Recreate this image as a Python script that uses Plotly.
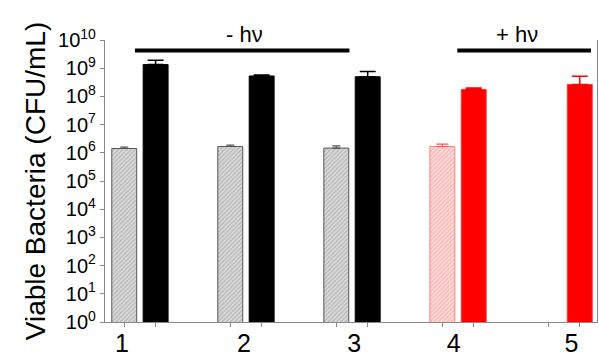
import plotly.graph_objects as go

# ---- data ----
groups = [1, 2, 3, 4, 5]
group_labels = ["1", "2", "3", "4", "5"]
label_pos = [0.83, 1.98, 3.02, 3.96, 5.07]

# dark (no light) series, groups 1-3
dark_groups = [1, 2, 3]
grey_vals = [1.42e6, 1.67e6, 1.47e6]
grey_err = [0.18e6, 0.21e6, 0.30e6]
black_vals = [1.34e9, 5.3e8, 5.0e8]
black_err = [0.56e9, 0.4e8, 2.6e8]

# light series, groups 4-5
lightred_groups = [4]
lightred_vals = [1.67e6]
lightred_err = [0.37e6]
red_groups = [4, 5]
red_vals = [1.77e8, 2.63e8]
red_err = [0.23e8, 2.6e8]

ytick_exp = list(range(0, 11))

OFF = 0.148
W = 0.235

fig = go.Figure()

fig.add_trace(go.Bar(
    x=[g - OFF for g in dark_groups], y=grey_vals, width=W,
    marker=dict(color="#d4d4d4", line=dict(color="#555555", width=1),
                pattern=dict(shape="/", fgcolor="#7a7a7a", bgcolor="#dcdcdc", size=3, solidity=0.35)),
    error_y=dict(type="data", symmetric=False, array=grey_err, arrayminus=[0]*3,
                 color="#555555", thickness=1.2, width=4),
))
fig.add_trace(go.Bar(
    x=[g + OFF for g in dark_groups], y=black_vals, width=W,
    marker=dict(color="black", line=dict(color="black", width=1)),
    error_y=dict(type="data", symmetric=False, array=black_err, arrayminus=[0]*3,
                 color="black", thickness=1.5, width=8),
))
fig.add_trace(go.Bar(
    x=[g - OFF for g in lightred_groups], y=lightred_vals, width=W,
    marker=dict(color="#ffd0d0", line=dict(color="#ff8080", width=1),
                pattern=dict(shape="/", fgcolor="#ff7070", bgcolor="#ffdede", size=3, solidity=0.35)),
    error_y=dict(type="data", symmetric=False, array=lightred_err, arrayminus=[0],
                 color="#ff5050", thickness=1.2, width=6),
))
fig.add_trace(go.Bar(
    x=[g + OFF for g in red_groups], y=red_vals, width=W,
    marker=dict(color="#ff0000", line=dict(color="#ff3030", width=1)),
    error_y=dict(type="data", symmetric=False, array=red_err, arrayminus=[0]*2,
                 color="#ff0000", thickness=1.5, width=8),
))

bar_centers = sorted([g - OFF for g in groups] + [g + OFF for g in groups])
xr = [0.6706, 5.3106]

fig.update_layout(
    width=599, height=358,
    margin=dict(l=105, r=1, t=40, b=34),
    paper_bgcolor="white", plot_bgcolor="white",
    showlegend=False, barmode="overlay",
    font=dict(family="Liberation Sans, Arial, sans-serif", color="black"),
    xaxis=dict(range=xr, showline=True, linecolor="#888888", linewidth=1.2,
               tickvals=bar_centers, showticklabels=False,
               ticks="outside", ticklen=4, tickcolor="#888888", showgrid=False, zeroline=False),
    xaxis2=dict(range=xr, overlaying="x", side="bottom", anchor="y",
                tickvals=label_pos, ticktext=group_labels, ticks="",
                ticklabelstandoff=4,
                tickfont=dict(size=25), showgrid=False, zeroline=False, showline=False),
    yaxis=dict(type="log", range=[0, 10], showline=True, linecolor="#888888", linewidth=1.2,
               mirror=True, tickvals=[10 ** e for e in ytick_exp],
               ticktext=["10<sup>%d</sup>" % e for e in ytick_exp],
               ticks="outside", ticklen=4, tickcolor="#888888",
               tickfont=dict(size=20), showgrid=False, zeroline=False,
               title=dict(text="Viable Bacteria (CFU/mL)", font=dict(size=28), standoff=4)),
)
# invisible helper trace to activate xaxis2
fig.add_trace(go.Scatter(x=[label_pos[0]], y=[1], xaxis="x2", mode="markers",
                         marker=dict(opacity=0), hoverinfo="skip", showlegend=False))

# condition brackets
fig.add_shape(type="line", xref="x", yref="paper", x0=0.953, x1=2.976, y0=0.963, y1=0.963,
              line=dict(color="black", width=4))
fig.add_shape(type="line", xref="x", yref="paper", x0=3.993, x1=5.254, y0=0.963, y1=0.963,
              line=dict(color="black", width=4))
fig.add_annotation(x=1.988, y=1.02, xref="x", yref="paper", text="- hν", showarrow=False,
                   font=dict(size=22), yanchor="middle")
fig.add_annotation(x=4.558, y=1.02, xref="x", yref="paper", text="+ hν", showarrow=False,
                   font=dict(size=22), yanchor="middle")

fig.write_html("out.html")
